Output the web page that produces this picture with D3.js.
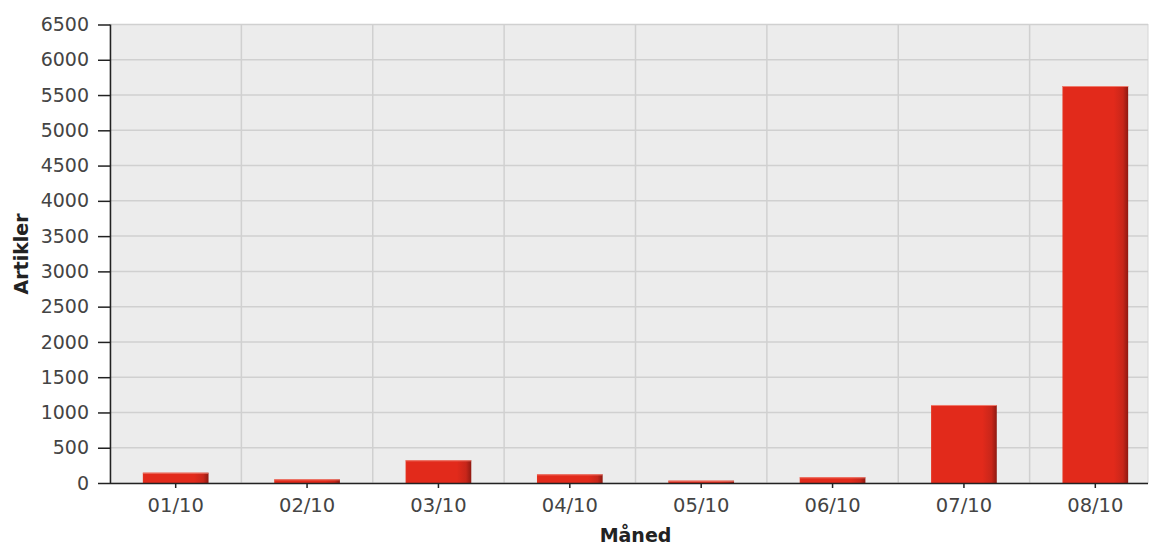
<!DOCTYPE html>
<html><head><meta charset="utf-8">
<script src="https://cdn.jsdelivr.net/npm/d3@7"></script>
<style>html,body{margin:0;padding:0;background:#fff;overflow:hidden}</style>
</head><body>
<svg id="chart" width="1149" height="545"></svg>
<script>
const categories = ["01/10","02/10","03/10","04/10","05/10","06/10","07/10","08/10"];
const values = [146, 52, 322, 123, 33, 81, 1106, 5628];
const yTicks = [0,500,1000,1500,2000,2500,3000,3500,4000,4500,5000,5500,6000,6500];
const xTitle = "Måned";
const yTitle = "Artikler";

const svg = d3.select("#chart");
const L = 110, T = 24.5, B = 483, Rvis = 1148, Rfull = 1161;
const x = d3.scaleBand().domain(categories).range([L, Rfull]).paddingInner(0.5).paddingOuter(0.25);
const y = d3.scaleLinear().domain([0, 6500]).range([B, T]);
const font = "'DejaVu Sans', sans-serif";

const defs = svg.append("defs");
const g = defs.append("linearGradient").attr("id","barGrad").attr("x1","0").attr("x2","1").attr("y1","0").attr("y2","0");
g.append("stop").attr("offset","0").attr("stop-color","#e4321f");
g.append("stop").attr("offset","0.03").attr("stop-color","#e22a1b");
g.append("stop").attr("offset","0.78").attr("stop-color","#e22a1b");
g.append("stop").attr("offset","0.92").attr("stop-color","#c8261a");
g.append("stop").attr("offset","1").attr("stop-color","#8e1a12");

// background
svg.append("rect").attr("x", L).attr("y", T).attr("width", Rvis - L).attr("height", B - T)
  .attr("fill", "#ececec").attr("stroke", "#d6d6d6").attr("stroke-width", 1);

// horizontal grid
svg.append("g").selectAll("line").data(yTicks.filter(d => d > 0)).join("line")
  .attr("x1", L).attr("x2", Rvis).attr("y1", d => y(d)).attr("y2", d => y(d))
  .attr("stroke", "#d0d0d0").attr("stroke-width", 1.5);

// vertical grid at category boundaries
const step = x.step();
const bounds = categories.slice(1).map((c) => x(c) - (step - x.bandwidth()) / 2);
svg.append("g").selectAll("line").data(bounds).join("line")
  .attr("x1", d => d).attr("x2", d => d).attr("y1", T).attr("y2", B)
  .attr("stroke", "#d0d0d0").attr("stroke-width", 1.5);

// bars
const bars = svg.append("g");
bars.selectAll("rect").data(categories).join("rect")
  .attr("x", d => x(d)).attr("width", x.bandwidth())
  .attr("y", (d, i) => y(values[i])).attr("height", (d, i) => B - y(values[i]))
  .attr("fill", "url(#barGrad)");
bars.selectAll("line").data(categories).join("line")
  .attr("x1", d => x(d)).attr("x2", d => x(d) + x.bandwidth())
  .attr("y1", (d, i) => y(values[i]) + 0.5).attr("y2", (d, i) => y(values[i]) + 0.5)
  .attr("stroke", "#ee7a6c").attr("stroke-width", 1);

// y axis
const yAxis = svg.append("g").attr("transform", `translate(${L},0)`)
  .call(d3.axisLeft(y).tickValues(yTicks).tickSize(12).tickPadding(9).tickFormat(d3.format("d")));
yAxis.select(".domain").attr("stroke", "#222").attr("stroke-width", 1.5).attr("d", `M0.5,${T}V${B}`);
yAxis.selectAll(".tick line").attr("stroke", "#222").attr("stroke-width", 1.5);
yAxis.selectAll(".tick text").attr("fill", "#444").style("font-family", font).style("font-size", "19px");

// x axis
const xAxis = svg.append("g").attr("transform", `translate(0,${B})`)
  .call(d3.axisBottom(x).tickSize(5).tickPadding(10));
xAxis.select(".domain").attr("stroke", "#222").attr("stroke-width", 1.5).attr("d", `M${L},0.5H${Rvis}`);
xAxis.selectAll(".tick line").attr("stroke", "#222").attr("stroke-width", 1.5);
xAxis.selectAll(".tick text").attr("fill", "#444").style("font-family", font).style("font-size", "19.5px");

// titles
svg.append("text").attr("x", (L + Rfull) / 2).attr("y", 542).attr("text-anchor", "middle")
  .style("font-family", font).style("font-weight", "bold").style("font-size", "19px").attr("fill", "#222")
  .text(xTitle);
svg.append("text").attr("transform", `translate(28,254) rotate(-90)`).attr("text-anchor", "middle")
  .style("font-family", font).style("font-weight", "bold").style("font-size", "19px").attr("fill", "#222")
  .text(yTitle);
</script>
</body></html>
